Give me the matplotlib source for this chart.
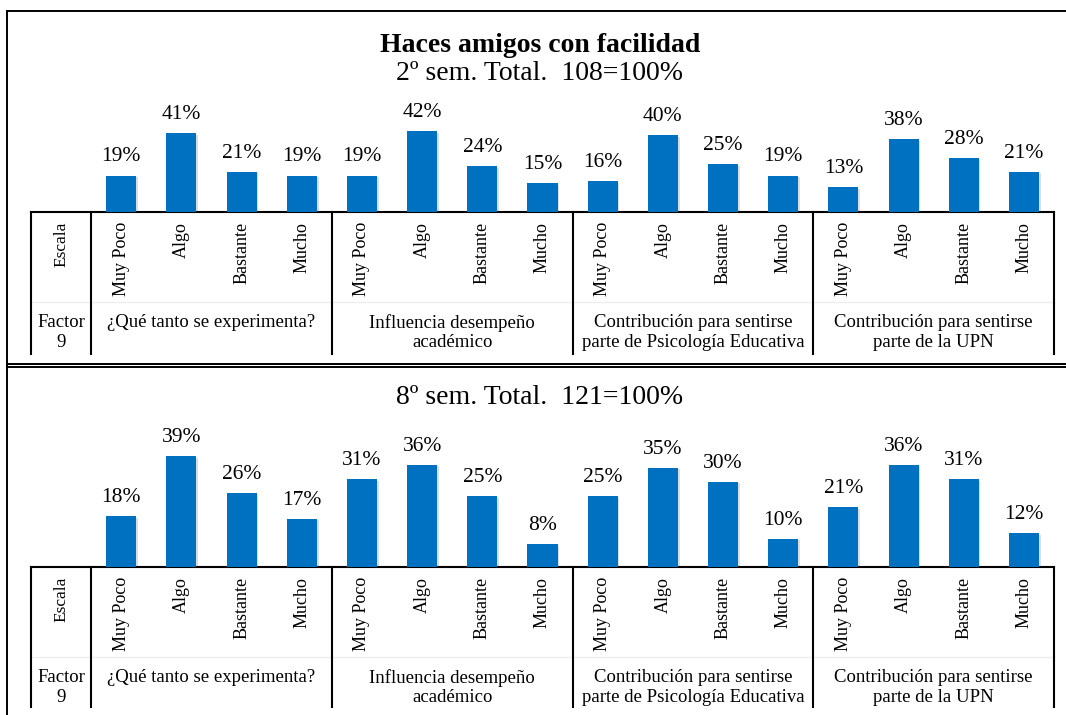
import matplotlib.pyplot as plt
from matplotlib.lines import Line2D
from matplotlib.transforms import blended_transform_factory
import matplotlib.patheffects as pe

# Data
categories = ["Muy Poco", "Algo", "Bastante", "Mucho"]
group_labels = [
    "¿Qué tanto se experimenta?",
    "Influencia desempeño\nacadémico",
    "Contribución para sentirse\nparte de Psicología Educativa",
    "Contribución para sentirse\nparte de la UPN",
]
sem2_values = [19, 41, 21, 19, 19, 42, 24, 15, 16, 40, 25, 19, 13, 38, 28, 21]
sem8_values = [18, 39, 26, 17, 31, 36, 25, 8, 25, 35, 30, 10, 21, 36, 31, 12]
title = "Haces amigos con facilidad"
sem2_subtitle = "2º sem. Total.  108=100%"
sem8_subtitle = "8º sem. Total.  121=100%"

plt.rcParams["font.family"] = ["Liberation Serif", "DejaVu Serif"]

W, H = 1066, 715
BAR_COLOR = "#0070C0"

fig = plt.figure(figsize=(W / 100, H / 100), dpi=100)


def fx(px):
    return px / W


def fy(py):
    return 1 - py / H


def fig_line(x0, y0, x1, y1, lw=1.4, color="black"):
    fig.add_artist(Line2D([fx(x0), fx(x1)], [fy(y0), fy(y1)],
                          transform=fig.transFigure, color=color, lw=lw))


def draw_panel(values, base, scale, ymax, bottom):
    ax = fig.add_axes([fx(31), fy(base), fx(1054) - fx(31), ymax * scale / H])
    x = list(range(len(values)))
    bars = ax.bar(x, values, width=0.5, color=BAR_COLOR, zorder=3)
    for b in bars:
        b.set_path_effects([pe.SimplePatchShadow(offset=(1.2, -1.2), alpha=0.15),
                            pe.Normal()])
    for b, v in zip(bars, values):
        ax.annotate(f"{v}%", xy=(b.get_x() + b.get_width() / 2, v),
                    xytext=(0, 6.5), textcoords="offset points",
                    ha="center", va="bottom", fontsize=15.5)
    ax.set_xlim(-1.5, len(values) - 0.5)
    ax.set_ylim(0, ymax)
    for s in ax.spines.values():
        s.set_visible(False)
    ax.set_yticks([])
    ax.set_xticks([-1] + x)
    ax.set_xticklabels(["Escala"] + categories * 4, rotation=90, fontsize=13)
    ax.get_xticklabels()[0].set_fontsize(12.5)
    ax.tick_params(axis="x", length=0, pad=7)
    ax.patch.set_visible(False)

    # table lines
    tr = blended_transform_factory(ax.transData, fig.transFigure)
    xl, xr = -1.5, len(values) - 0.5
    ax.add_line(Line2D([xl, xr], [fy(base), fy(base)], transform=tr,
                       color="black", lw=1.5, clip_on=False))
    ax.add_line(Line2D([xl, xr], [fy(base + 90), fy(base + 90)], transform=tr,
                       color="#ececec", lw=0.8, clip_on=False))
    for xv in [-1.5, -0.5, 3.5, 7.5, 11.5, 15.5]:
        ax.add_line(Line2D([xv, xv], [fy(base), fy(bottom)], transform=tr,
                           color="black", lw=1.5, clip_on=False))

    # factor row
    ty = fy(base + 102)
    ax.text(-1, ty, "Factor\n9", transform=tr, ha="center", va="top",
            fontsize=13.5, linespacing=1.2)
    for i, lab in enumerate(group_labels):
        ax.text(1.5 + 4 * i, ty, lab, transform=tr, ha="center", va="top",
                fontsize=13.5, linespacing=1.2)
    return ax


# top panel
draw_panel(sem2_values, base=212, scale=1.92, ymax=50, bottom=354)
fig.text(fx(540), fy(46), title, ha="center", va="center",
         fontsize=20, fontweight="bold")
fig.text(fx(540), fy(73), sem2_subtitle, ha="center", va="center", fontsize=20)

# bottom panel
draw_panel(sem8_values, base=567, scale=2.84, ymax=40, bottom=707)
fig.text(fx(540), fy(398), sem8_subtitle, ha="center", va="center", fontsize=20)

# outer frames
fig_line(7, 11, 1066, 11)
fig_line(7, 11, 7, 715)
fig_line(7, 364, 1066, 364)
fig_line(7, 367, 1066, 367)

fig.savefig("out.png", dpi=100)
